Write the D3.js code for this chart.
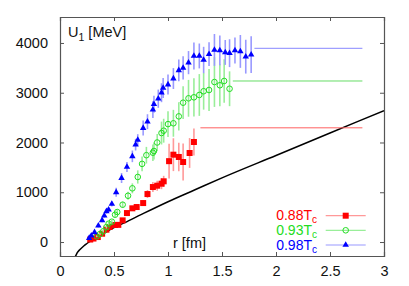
<!DOCTYPE html>
<html>
<head>
<meta charset="utf-8">
<script src="https://cdn.jsdelivr.net/npm/d3@7"></script>
<style>
  body { margin: 0; background: #fff; }
  text { font-family: "Liberation Sans", Arial, Helvetica, sans-serif; }
</style>
</head>
<body>
<div id="chart"></div>
<script>
// 0.88 Tc (red squares)
var rRed = [0.28,0.31,0.35,0.39,0.43,0.46,0.51,0.54,0.58,0.62,0.67,0.71,0.77,0.81,0.86,0.90,0.94,0.96,1.01,1.05,1.10,1.14,1.20,1.24];
var uRed = [50,70,100,167,248,302,342,345,435,582,677,703,783,964,1105,1132,1172,1220,1625,1755,1709,1608,1789,2010];
var eRed = [15,15,15,20,20,25,25,30,30,40,50,50,60,80,100,100,110,110,350,330,285,370,300,270];

// 0.93 Tc (green circles)
var rGreen = [0.34,0.37,0.40,0.43,0.45,0.48,0.51,0.53,0.58,0.63,0.67,0.72,0.76,0.80,0.86,0.87,0.90,0.94,0.96,1.00,1.05,1.10,1.14,1.19,1.24,1.29,1.33,1.38,1.43,1.48,1.52,1.57];
var uGreen = [114,160,215,300,368,408,549,603,750,930,1079,1307,1570,1745,1795,1829,2000,2190,2237,2370,2386,2525,2800,2888,2908,2955,3030,3055,3215,3150,3236,3080];
var eGreen = [20,25,25,30,35,35,50,50,60,80,100,133,150,167,167,170,170,230,240,260,270,285,330,370,385,420,370,420,500,420,435,350];

// 0.98 Tc (blue triangles)
var rBlue = [0.27,0.29,0.32,0.355,0.39,0.41,0.43,0.45,0.48,0.52,0.57,0.62,0.67,0.70,0.72,0.77,0.81,0.86,0.87,0.91,0.94,0.955,1.00,1.05,1.10,1.14,1.19,1.24,1.29,1.33,1.38,1.43,1.48,1.53,1.57,1.62,1.67,1.72,1.77];
var uBlue = [80,127,195,328,436,529,617,650,764,999,1286,1508,1722,1956,2050,2290,2418,2660,2770,2880,3000,3095,3165,3285,3450,3500,3605,3739,3739,3658,3775,3860,3850,3810,3795,3850,3830,3725,3765];
var eBlue = [25,25,30,35,40,40,45,45,50,90,100,100,117,117,117,150,150,167,170,183,190,200,200,210,217,233,233,270,250,265,240,320,300,250,280,260,330,340,370];

// plateau lines: value, start r, end r
var plateauU = [2295, 3236, 3893];
var plateauFrom = [1.30, 1.60, 1.80];
var plateauTo = [2.80, 2.80, 2.80];

// black reference curve
var rCurve = [0.13,0.145,0.16,0.185,0.22,0.25,0.30,0.35,0.40,0.50,0.60,0.75,1.00,1.25,1.50,2.00,2.50,3.00];
var uCurve = [-340,-280,-215,-150,-80,-30,50,110,170,290,390,550,810,1050,1290,1740,2190,2640];

var xTicks = [0, 0.5, 1, 1.5, 2, 2.5, 3];
var yTicks = [0, 1000, 2000, 3000, 4000];
var labels = ["0.88T", "0.93T", "0.98T"];

var width = 409, height = 286;
var margin = {top: 17, right: 25, bottom: 30, left: 60};

var x = d3.scaleLinear().domain([0, 3]).range([margin.left, width - margin.right]);
var y = d3.scaleLinear().domain([-281, 4522]).range([height - margin.bottom, margin.top]);

var svg = d3.select("#chart").append("svg")
    .attr("width", width)
    .attr("height", height);

svg.append("clipPath").attr("id", "clip")
  .append("rect")
    .attr("x", margin.left).attr("y", margin.top)
    .attr("width", width - margin.left - margin.right)
    .attr("height", height - margin.top - margin.bottom);

// frame with ticks on all four sides
var frameColor = "#555";
var bottomAx = svg.append("g")
    .attr("transform", "translate(0," + (height - margin.bottom) + ")")
    .call(d3.axisBottom(x).tickValues(xTicks).tickSize(-4).tickPadding(10)
      .tickFormat(function(d) { return d; }));
var topAx = svg.append("g")
    .attr("transform", "translate(0," + margin.top + ")")
    .call(d3.axisTop(x).tickValues(xTicks).tickSize(-4).tickFormat(""));
var leftAx = svg.append("g")
    .attr("transform", "translate(" + margin.left + ",0)")
    .call(d3.axisLeft(y).tickValues(yTicks).tickSize(-4).tickPadding(12)
      .tickFormat(function(d) { return d; }));
var rightAx = svg.append("g")
    .attr("transform", "translate(" + (width - margin.right) + ",0)")
    .call(d3.axisRight(y).tickValues(yTicks).tickSize(-4).tickFormat(""));

[bottomAx, topAx, leftAx, rightAx].forEach(function(ax) {
  ax.select(".domain").attr("stroke", frameColor).attr("stroke-width", 1.2);
  ax.selectAll(".tick line").attr("stroke", frameColor);
  ax.selectAll("text")
    .attr("fill", "#111")
    .style("font-size", "14.5px")
    .style("font-family", "'Liberation Sans', Arial, sans-serif");
});

// black curve
var line = d3.line()
    .x(function(d) { return x(d[0]); })
    .y(function(d) { return y(d[1]); })
    .curve(d3.curveMonotoneX);

svg.append("path")
    .datum(d3.zip(rCurve, uCurve))
    .attr("clip-path", "url(#clip)")
    .attr("fill", "none")
    .attr("stroke", "#000")
    .attr("stroke-width", 1.5)
    .attr("d", line);

// series definitions
var series = [
  {r: rRed, u: uRed, e: eRed, main: "#ff0000", light: "#ff9999", plain: "#ff6060", sym: "square"},
  {r: rGreen, u: uGreen, e: eGreen, main: "#22dd22", light: "#99ee99", plain: "#66dd66", sym: "circle"},
  {r: rBlue, u: uBlue, e: eBlue, main: "#0000ff", light: "#9999ff", plain: "#8888ff", sym: "triangle"}
];

// plateau lines
series.forEach(function(s, i) {
  svg.append("line")
    .attr("x1", x(plateauFrom[i])).attr("x2", x(plateauTo[i]))
    .attr("y1", y(plateauU[i])).attr("y2", y(plateauU[i]))
    .attr("stroke", s.plain)
    .attr("stroke-width", 1);
});

function drawMarker(g, s) {
  if (s.sym == "square") {
    g.append("rect")
      .attr("x", -3).attr("y", -3).attr("width", 6).attr("height", 6)
      .attr("fill", s.main);
  } else if (s.sym == "circle") {
    g.append("circle")
      .attr("r", 2.8)
      .attr("fill", "none")
      .attr("stroke", s.main)
      .attr("stroke-width", 1);
  } else {
    g.append("path")
      .attr("d", d3.symbol().type(d3.symbolTriangle).size(18)())
      .attr("fill", s.main);
  }
}

// data points with error bars
series.forEach(function(s) {
  var pts = s.r.map(function(r, i) { return {r: r, u: s.u[i], e: s.e[i]}; });
  var g = svg.append("g");

  g.selectAll(".err")
      .data(pts)
    .enter().append("line")
      .attr("class", "err")
      .attr("x1", function(d) { return x(d.r); })
      .attr("x2", function(d) { return x(d.r); })
      .attr("y1", function(d) { return y(d.u - d.e); })
      .attr("y2", function(d) { return y(d.u + d.e); })
      .attr("stroke", s.light)
      .attr("stroke-width", 1.6);

  g.selectAll(".pt")
      .data(pts)
    .enter().append("g")
      .attr("class", "pt")
      .attr("transform", function(d) { return "translate(" + x(d.r) + "," + y(d.u) + ")"; })
      .each(function() { drawMarker(d3.select(this), s); });
});

// legend
var legendY = [215.7, 230.3, 245];
series.forEach(function(s, i) {
  var t = svg.append("text")
    .attr("x", 317)
    .attr("y", legendY[i] + 4.5)
    .attr("text-anchor", "end")
    .attr("fill", s.main)
    .style("font-size", "14px");
  t.append("tspan").text(labels[i]);
  t.append("tspan").attr("dy", 3).style("font-size", "10px").text("c");

  svg.append("line")
    .attr("x1", 325.7).attr("x2", 365.7)
    .attr("y1", legendY[i]).attr("y2", legendY[i])
    .attr("stroke", s.light)
    .attr("stroke-width", 1.2);
  var mk = svg.append("g").attr("transform", "translate(345.7," + legendY[i] + ")");
  drawMarker(mk, {main: s.main, sym: s.sym});
});

// axis titles
var ut = svg.append("text")
    .attr("x", 68)
    .attr("y", 37)
    .attr("fill", "#111")
    .style("font-size", "14.5px");
ut.append("tspan").text("U");
ut.append("tspan").attr("dy", 4).style("font-size", "10.5px").text("1");
ut.append("tspan").attr("dy", -4).text(" [MeV]");

svg.append("text")
    .attr("x", 206)
    .attr("y", 248)
    .attr("text-anchor", "end")
    .attr("fill", "#111")
    .style("font-size", "14.5px")
    .text("r [fm]");
</script>
</body>
</html>
